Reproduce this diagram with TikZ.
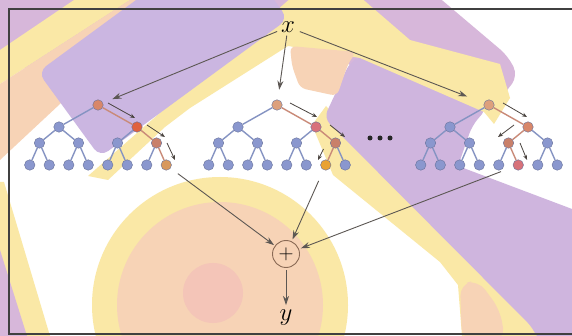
\documentclass[tikz,border=0pt]{standalone}
\usetikzlibrary{arrows.meta,calc}
\definecolor{pur}{HTML}{D7B7DA}
\definecolor{lav}{HTML}{CBB6E1}
\definecolor{ptwo}{HTML}{CFB5DE}
\definecolor{yel}{HTML}{FAE8A6}
\definecolor{pch}{HTML}{F7D3B6}
\definecolor{pnk}{HTML}{F4C5B8}
\definecolor{nodeb}{HTML}{8A97CE}
\definecolor{edgeb}{HTML}{8593C2}
\definecolor{arrc}{HTML}{4A4440}
\definecolor{plusc}{HTML}{8A6A55}
\newcommand\mktree[2]{%
\node[tn,#1-1-0/.try] (#1-1-0) at (#2,105) {};
\node[tn,#1-2-0/.try] (#1-2-0) at ({#2-39},127) {};
\node[tn,#1-2-1/.try] (#1-2-1) at ({#2+39},127) {};
\node[tn,#1-3-0/.try] (#1-3-0) at ({#2-58.5},143) {};
\node[tn,#1-3-1/.try] (#1-3-1) at ({#2-19.5},143) {};
\node[tn,#1-3-2/.try] (#1-3-2) at ({#2+19.5},143) {};
\node[tn,#1-3-3/.try] (#1-3-3) at ({#2+58.5},143) {};
\node[tn,#1-4-0/.try] (#1-4-0) at ({#2-68.25},165) {};
\node[tn,#1-4-1/.try] (#1-4-1) at ({#2-48.75},165) {};
\node[tn,#1-4-2/.try] (#1-4-2) at ({#2-29.25},165) {};
\node[tn,#1-4-3/.try] (#1-4-3) at ({#2-9.75},165) {};
\node[tn,#1-4-4/.try] (#1-4-4) at ({#2+9.75},165) {};
\node[tn,#1-4-5/.try] (#1-4-5) at ({#2+29.25},165) {};
\node[tn,#1-4-6/.try] (#1-4-6) at ({#2+48.75},165) {};
\node[tn,#1-4-7/.try] (#1-4-7) at ({#2+68.25},165) {};
\draw[te,e#1-2-0/.try] (#1-1-0) -- (#1-2-0);
\draw[te,e#1-2-1/.try] (#1-1-0) -- (#1-2-1);
\draw[te,e#1-3-0/.try] (#1-2-0) -- (#1-3-0);
\draw[te,e#1-3-1/.try] (#1-2-0) -- (#1-3-1);
\draw[te,e#1-3-2/.try] (#1-2-1) -- (#1-3-2);
\draw[te,e#1-3-3/.try] (#1-2-1) -- (#1-3-3);
\draw[te,e#1-4-0/.try] (#1-3-0) -- (#1-4-0);
\draw[te,e#1-4-1/.try] (#1-3-0) -- (#1-4-1);
\draw[te,e#1-4-2/.try] (#1-3-1) -- (#1-4-2);
\draw[te,e#1-4-3/.try] (#1-3-1) -- (#1-4-3);
\draw[te,e#1-4-4/.try] (#1-3-2) -- (#1-4-4);
\draw[te,e#1-4-5/.try] (#1-3-2) -- (#1-4-5);
\draw[te,e#1-4-6/.try] (#1-3-3) -- (#1-4-6);
\draw[te,e#1-4-7/.try] (#1-3-3) -- (#1-4-7);
}
\tikzset{
 tn/.style={circle, fill=nodeb, draw=nodeb!75!black, line width=0.4pt, minimum size=10.5pt, inner sep=0pt},
 te/.style={draw=edgeb, line width=1.4pt},
 pa/.style={-{Stealth[length=5pt,width=4pt]}, draw=arrc, line width=0.8pt},
 ma/.style={-{Stealth[length=9pt,width=6pt]}, draw=arrc!90, line width=0.9pt},
 dotn/.style={circle, fill=black!85, minimum size=5pt, inner sep=0pt},
 lbl/.style={font=\fontsize{28}{28}\selectfont, inner sep=1pt},
 t1-1-0/.style={fill=HLa}, t1-2-1/.style={fill=HLb}, t1-3-3/.style={fill=HLc}, t1-4-7/.style={fill=HLd},
 et1-2-1/.style={draw=HLe}, et1-3-3/.style={draw=HLe}, et1-4-7/.style={draw=HLe},
 t2-1-0/.style={fill=HLf}, t2-2-1/.style={fill=HLg}, t2-3-3/.style={fill=HLc}, t2-4-6/.style={fill=HLh},
 et2-2-1/.style={draw=HLe}, et2-3-3/.style={draw=HLe}, et2-4-6/.style={draw=HLe},
 t3-1-0/.style={fill=HLf}, t3-2-1/.style={fill=HLa}, t3-3-2/.style={fill=HLc}, t3-4-5/.style={fill=HLi},
 et3-2-1/.style={draw=HLe}, et3-3-2/.style={draw=HLe}, et3-4-5/.style={draw=HLe},
}
\definecolor{HLa}{HTML}{D8876A}
\definecolor{HLb}{HTML}{E0623F}
\definecolor{HLc}{HTML}{C9806A}
\definecolor{HLd}{HTML}{D8985C}
\definecolor{HLe}{HTML}{C98A78}
\definecolor{HLf}{HTML}{DDA07C}
\definecolor{HLg}{HTML}{D8717A}
\definecolor{HLh}{HTML}{E9A232}
\definecolor{HLi}{HTML}{D7727A}
\begin{document}
\begin{tikzpicture}[x=1pt,y=-1pt]
\useasboundingbox (0,0) rectangle (572,336);
\clip (0,0) rectangle (572,336);
\fill[white] (0,0) rectangle (572,336);
% big circle
\fill[yel] (220,305) circle (128pt);
\fill[pch] (220,305) circle (103pt);
\fill[pnk] (213,293) circle (30pt);
% bottom-left bands
\fill[yel] (0,182) -- (4,182) -- (50,336) -- (0,336) -- cycle;
\fill[pur] (0,250) -- (27,336) -- (0,336) -- cycle;
% top purple
\fill[pur, rounded corners=10pt] (-10,-10) -- (430,-10) -- (508,56) -- (518,76) -- (498,102) -- (357,70) -- (300,30) -- (190,95) -- (-10,62) -- cycle;
% top-left yellow and peach
\fill[yel] (0,50) -- (74,0) -- (130,0) -- (0,84) -- cycle;
\fill[pch] (0,84) -- (130,0) -- (140,0) -- (60,104) -- (0,160) -- cycle;
% right purple with its yellow band
\fill[yel] (312,125) -- (326,106) -- (548,336) -- (462,336) -- (458,285) -- (440,262) -- (333,175) -- cycle;
\fill[ptwo, rounded corners=8pt] (324,118) -- (350,62) -- (362,56) -- (487,108) -- (472,126) -- (458,166) -- (580,212) -- (580,340) -- (538,340) -- (533,328) -- cycle;
\fill[pch, rounded corners=12pt] (462,340) -- (460,284) -- (478,280) -- (500,310) -- (505,340) -- cycle;
% chevron
\fill[yel] (88,176) -- (300,-10) -- (352,-10) -- (410,40) -- (500,64) -- (510,98) -- (494,124) -- (484,112) -- (360,58) -- (288,46) -- (190,108) -- (165,127) -- (108,180) -- cycle;
\fill[pch, rounded corners=6pt] (290,46) -- (356,52) -- (348,64) -- (337,96) -- (300,88) -- (292,66) -- cycle;
% upper-left lavender block
\fill[lav, rounded corners=10pt] (38,72) -- (100,157) -- (288,19) -- (226,-66) -- cycle;
% frame
\draw[line width=1.6pt, black!75] (9,9) rectangle (590,334);
% trees
\mktree{t1}{98}
\mktree{t2}{277}
\mktree{t3}{489}
\node[dotn] (d1) at (370,138) {};
\node[dotn] (d2) at (380,138) {};
\node[dotn] (d3) at (390,138) {};
% labels
\node[lbl] (x) at (288,27) {$x$};
\node[circle, draw=plusc, line width=0.9pt, minimum size=27pt, inner sep=0pt, font=\fontsize{22}{22}\selectfont] (p) at (286,254) {$+$};
\node[lbl] (y) at (286,318) {$y$};
% main arrows
\draw[ma, shorten <=3pt, shorten >=10pt] (x) -- (t1-1-0);
\draw[ma, shorten <=2pt, shorten >=10pt] (x) -- (t2-1-0);
\draw[ma, shorten <=4pt, shorten >=18pt] (x) -- (t3-1-0);
\draw[ma, shorten <=9pt, shorten >=1pt] (t1-4-7) -- (p);
\draw[ma, shorten <=12pt, shorten >=2pt] (t2-4-6) -- (p);
\draw[ma, shorten <=13pt, shorten >=2pt] (t3-4-5) -- (p);
\draw[ma, shorten <=2pt, shorten >=4pt] (p) -- (y);
% path arrows
\draw[pa] ($(t1-1-0)+(10,-2)$) -- ($(t1-1-0)+(37,13)$);
\draw[pa] ($(t1-2-1)+(10,-2)$) -- ($(t1-2-1)+(28,10)$);
\draw[pa] ($(t1-3-3)+(10.5,0)$) -- ($(t1-3-3)+(18.5,17)$);
\draw[pa] ($(t2-1-0)+(13,-2)$) -- ($(t2-1-0)+(40,12)$);
\draw[pa] ($(t2-2-1)+(14,-2)$) -- ($(t2-2-1)+(29,10)$);
\draw[pa] ($(t2-3-3)+(-12,6)$) -- ($(t2-3-3)+(-17.5,17)$);
\draw[pa] ($(t3-1-0)+(14,-2)$) -- ($(t3-1-0)+(38,12)$);
\draw[pa] ($(t3-2-1)+(-14,-2)$) -- ($(t3-2-1)+(-30,10)$);
\draw[pa] ($(t3-3-2)+(11.5,0)$) -- ($(t3-3-2)+(18.5,17)$);
\end{tikzpicture}
\end{document}
